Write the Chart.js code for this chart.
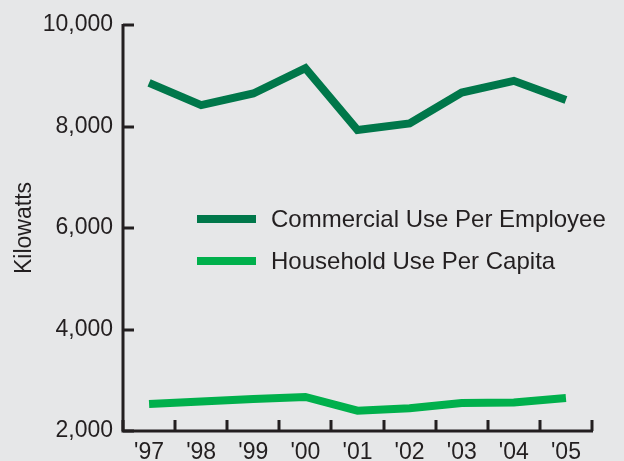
<!DOCTYPE html>
<html>
<head>
<meta charset="utf-8">
<script src="https://cdn.jsdelivr.net/npm/chart.js@4/dist/chart.umd.min.js"></script>
<style>
  html, body { margin: 0; padding: 0; background: #e6e7e8; }
  #wrap { width: 624px; height: 461px; }
</style>
</head>
<body>
<div id="wrap"><canvas id="chart" width="624" height="461"></canvas></div>
<script>
// data
const years = ["'97", "'98", "'99", "'00", "'01", "'02", "'03", "'04", "'05"];
const commercial = [8860, 8420, 8650, 9150, 7930, 8060, 8670, 8900, 8520];
const household = [2530, 2580, 2630, 2670, 2400, 2450, 2550, 2560, 2650];
const yTicks = [2000, 4000, 6000, 8000, 10000];

const INK = '#231f20';
const DARK = '#00774a';
const LIGHT = '#00b04c';
const FONT = 'Liberation Sans, Arial, sans-serif';

// ticks point inward, so they are drawn by hand from the scales
const inwardTicks = {
  id: 'inwardTicks',
  afterDraw(chart) {
    const { ctx, chartArea, scales } = chart;
    ctx.save();
    ctx.strokeStyle = INK;
    ctx.lineWidth = 3;
    ctx.lineCap = 'butt';
    // y ticks
    yTicks.forEach(v => {
      const y = Math.round(scales.y.getPixelForValue(v));
      ctx.beginPath();
      ctx.moveTo(chartArea.left, y);
      ctx.lineTo(chartArea.left + 11, y);
      ctx.stroke();
    });
    // x ticks at category boundaries
    for (let i = 0; i <= years.length; i++) {
      const x = Math.round(scales.x.getPixelForValue(i - 0.5));
      ctx.beginPath();
      ctx.moveTo(x, chartArea.bottom);
      ctx.lineTo(x, chartArea.bottom - 11);
      ctx.stroke();
    }
    // axis lines
    ctx.beginPath();
    ctx.moveTo(chartArea.left, chartArea.top - 1);
    ctx.lineTo(chartArea.left, chartArea.bottom);
    ctx.lineTo(chartArea.right + 1, chartArea.bottom);
    ctx.stroke();
    ctx.restore();
  }
};

// legend sits inside the plot
const innerLegend = {
  id: 'innerLegend',
  afterDraw(chart) {
    const { ctx } = chart;
    ctx.save();
    ctx.font = '24px ' + FONT;
    ctx.textBaseline = 'middle';
    chart.data.datasets.forEach((ds, i) => {
      const y = 219 + i * 42;
      ctx.strokeStyle = ds.borderColor;
      ctx.lineWidth = 8;
      ctx.beginPath();
      ctx.moveTo(197, y);
      ctx.lineTo(256, y);
      ctx.stroke();
      ctx.fillStyle = INK;
      ctx.fillText(ds.label, 271, y + 1);
    });
    ctx.restore();
  }
};

new Chart(document.getElementById('chart'), {
  type: 'line',
  data: {
    labels: years,
    datasets: [
      { label: 'Commercial Use Per Employee', data: commercial, borderColor: DARK, borderWidth: 8, pointRadius: 0, borderJoinStyle: 'miter', borderCapStyle: 'butt', tension: 0 },
      { label: 'Household Use Per Capita', data: household, borderColor: LIGHT, borderWidth: 8, pointRadius: 0, borderJoinStyle: 'miter', borderCapStyle: 'butt', tension: 0 }
    ]
  },
  options: {
    responsive: false,
    animation: false,
    layout: { padding: { top: 25, right: 32, left: 0, bottom: 0 } },
    plugins: {
      legend: { display: false },
      tooltip: { enabled: false }
    },
    scales: {
      x: {
        offset: true,
        grid: { display: false, drawTicks: false },
        border: { display: false },
        ticks: { color: INK, font: { family: FONT, size: 23 }, padding: 8, maxRotation: 0, autoSkip: false },
        afterFit: s => { s.height = 30; }
      },
      y: {
        min: 2000,
        max: 10000,
        grid: { display: false, drawTicks: false },
        border: { display: false },
        afterBuildTicks: s => { s.ticks = yTicks.map(v => ({ value: v })); },
        ticks: {
          color: INK,
          font: { family: FONT, size: 23 },
          padding: 10,
          callback: v => v.toLocaleString('en-US')
        },
        title: { display: true, text: 'Kilowatts', color: INK, font: { family: FONT, size: 23 }, padding: { top: 11, bottom: 0 } },
        afterFit: s => { s.width = 123; }
      }
    }
  },
  plugins: [inwardTicks, innerLegend]
});
</script>
</body>
</html>
